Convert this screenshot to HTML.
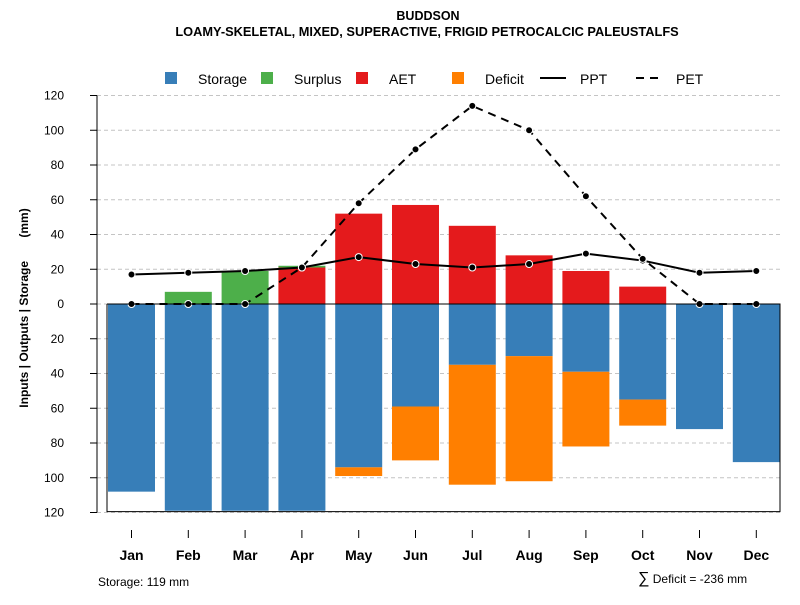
<!DOCTYPE html>
<html><head><meta charset="utf-8"><style>
body{margin:0;background:#fff;font-family:"Liberation Sans",sans-serif;}
svg text{font-family:"Liberation Sans",sans-serif;}
</style></head><body>
<svg id="c" width="800" height="600">
<text x="428" y="20" text-anchor="middle" font-size="12.5" font-weight="bold">BUDDSON</text>
<text x="427" y="36" text-anchor="middle" font-size="12.8" font-weight="bold">LOAMY-SKELETAL, MIXED, SUPERACTIVE, FRIGID PETROCALCIC PALEUSTALFS</text>
<g font-size="14">
<rect x="165" y="72" width="12" height="12" fill="#377eb8"/><text x="198" y="84">Storage</text>
<rect x="261" y="72" width="12" height="12" fill="#4daf4a"/><text x="294" y="84">Surplus</text>
<rect x="356" y="72" width="12" height="12" fill="#e41a1c"/><text x="389" y="84">AET</text>
<rect x="452" y="72" width="12" height="12" fill="#ff7f00"/><text x="485" y="84">Deficit</text>
<line x1="540" y1="78" x2="566" y2="78" stroke="#000" stroke-width="2"/><text x="580" y="84">PPT</text>
<line x1="636" y1="78" x2="662" y2="78" stroke="#000" stroke-width="2" stroke-dasharray="8,6"/><text x="676" y="84">PET</text>
</g>
<text transform="translate(28,308) rotate(-90)" text-anchor="middle" font-size="12" font-weight="bold" xml:space="preserve" style="white-space:pre">Inputs | Outputs | Storage       (mm)</text>
<g id="grid"></g><g id="bars"></g><g id="lines"></g><g id="axes"></g>
<text x="98" y="586" font-size="12">Storage: 119 mm</text>
<text x="638" y="583" font-size="12"><tspan font-size="16">∑</tspan> Deficit = -236 mm</text>
</svg>
<script>
const months=["Jan","Feb","Mar","Apr","May","Jun","Jul","Aug","Sep","Oct","Nov","Dec"];
const storage=[108,119,119,119,94,59,35,30,39,55,72,91];
const deficit=[0,0,0,0,5,31,69,72,43,15,0,0];
const aet=[0,0,0,21,52,57,45,28,19,10,0,0];
const surplus=[0,7,19,1,0,0,0,0,0,0,0,0];
const ppt=[17,18,19,21,27,23,21,23,29,25,18,19];
const pet=[0,0,0,21,58,89,114,100,62,26,0,0];
const yTicks=[120,100,80,60,40,20,0,-20,-40,-60,-80,-100,-120];
const NS="http://www.w3.org/2000/svg";
const X=i=>131.5+i*56.8, Y=v=>304-v*1.7375, BW=47;
function mk(p,t,a){const e=document.createElementNS(NS,t);for(const k in a)e.setAttribute(k,a[k]);document.getElementById(p).appendChild(e);return e;}
yTicks.forEach(v=>{
 const g=mk("grid","line",{x1:97,x2:780,y1:Y(v),y2:Y(v),stroke:"#c4c4c4","stroke-dasharray":"4,3"});
 
 
 const t=mk("axes","line",{x1:90,x2:97,y1:Y(v),y2:Y(v),stroke:"#000"});
 
 
 const l=mk("axes","text",{x:64,y:Y(v)+4,"text-anchor":"end","font-size":"12"});
 l.textContent=Math.abs(v);
 
 
});
const ax=mk("axes","line",{x1:97,x2:97,y1:Y(120),y2:Y(-120),stroke:"#000"});


months.forEach((m,i)=>{
 const x=X(i)-BW/2;
 function bar(y0,y1,c,n){ if(y1===y0)return; const r=mk("bars","rect",{x:x,width:BW,y:Math.min(Y(y0),Y(y1)),height:Math.abs(Y(y0)-Y(y1)),fill:c});
  
  }
 bar(0,-storage[i],"#377eb8","storage-bar-"+m.toLowerCase());
 bar(-storage[i],-storage[i]-deficit[i],"#ff7f00","deficit-bar-"+m.toLowerCase());
 bar(0,aet[i],"#e41a1c","aet-bar-"+m.toLowerCase());
 bar(aet[i],aet[i]+surplus[i],"#4daf4a","surplus-bar-"+m.toLowerCase());
 const t=mk("axes","line",{x1:X(i),x2:X(i),y1:530,y2:538,stroke:"#000"});
 
 
 const l=mk("axes","text",{x:X(i),y:560,"text-anchor":"middle","font-size":"14","font-weight":"bold"});
 l.textContent=m;
 
 
});
const box=mk("axes","path",{d:`M107,${Y(0)} V${Y(-119.5)} H780 V${Y(0)} H107`,fill:"none",stroke:"#000"});


function series(d,dash,n){
 const p=mk("lines","polyline",{points:d.map((v,i)=>X(i)+","+Y(v)).join(" "),fill:"none",stroke:"#000","stroke-width":2,"stroke-dasharray":dash});
 
 
 d.forEach((v,i)=>{const c=mk("lines","circle",{cx:X(i),cy:Y(v),r:3.5,fill:"#000",stroke:"#fff","stroke-width":1});
  
  });
}
series(ppt,"none","ppt");
series(pet,"8,6","pet");
</script>
</body></html>
